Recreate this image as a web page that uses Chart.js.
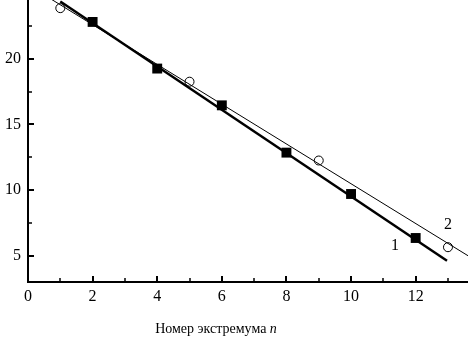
<!DOCTYPE html>
<html>
<head>
<meta charset="utf-8">
<script src="https://cdn.jsdelivr.net/npm/chart.js@4.4.1/dist/chart.umd.min.js"></script>
<style>
  body { margin: 0; background: #fff; }
  #wrap { width: 468px; height: 340px; }
</style>
</head>
<body>
<div id="wrap"><canvas id="extremaChart" width="468" height="340"></canvas></div>
<script>
// measured points
const squareN = [2, 4, 6, 8, 10, 12];
const squareVal = [22.8, 19.25, 16.45, 12.85, 9.7, 6.35];
const circleN = [1, 5, 9, 13];
const circleVal = [23.85, 18.25, 12.25, 5.65];

// fitted lines, end points
const fit1N = [1.0, 12.97];
const fit1Val = [24.35, 4.62];
const fit2N = [0.7, 13.62];
const fit2Val = [24.56, 5.0];

// axes
const xMajor = [0, 2, 4, 6, 8, 10, 12];
const xMinor = [1, 3, 5, 7, 9, 11, 13];
const yMajor = [5, 10, 15, 20];
const yMinor = [7.5, 12.5, 17.5, 22.5];
const xRange = [0, 13.62];
const yRange = [3, 24.47];

const curveLabels = [
    { text: '1', n: 11.36, v: 5.72 },
    { text: '2', n: 13.0, v: 7.35 }
];
const xTitle = 'Номер экстремума ';
const xTitleVar = 'n';

const FONT = "'Liberation Serif', 'Times New Roman', serif";

function toXY(xs, ys) {
    return xs.map((x, i) => ({ x: x, y: ys[i] }));
}

// inner tick marks, curve numbers and axis title
const decorPlugin = {
    id: 'decor',
    afterDraw(chart) {
        const ctx = chart.ctx;
        const xs = chart.scales.x;
        const ys = chart.scales.y;
        const area = chart.chartArea;
        ctx.save();
        ctx.strokeStyle = '#000';
        ctx.lineCap = 'butt';

        function xTick(v, len, w) {
            const px = Math.round(xs.getPixelForValue(v));
            ctx.lineWidth = w;
            ctx.beginPath();
            ctx.moveTo(px, area.bottom);
            ctx.lineTo(px, area.bottom - len);
            ctx.stroke();
        }
        function yTick(v, len, w) {
            const py = Math.round(ys.getPixelForValue(v));
            ctx.lineWidth = w;
            ctx.beginPath();
            ctx.moveTo(area.left, py);
            ctx.lineTo(area.left + len, py);
            ctx.stroke();
        }
        xMajor.forEach(v => xTick(v, 6, 2));
        xMinor.forEach(v => xTick(v, 4, 1.5));
        yMajor.forEach(v => yTick(v, 6, 2));
        yMinor.forEach(v => yTick(v, 4, 1.5));

        ctx.fillStyle = '#000';
        ctx.font = '16px ' + FONT;
        ctx.textAlign = 'center';
        ctx.textBaseline = 'middle';
        curveLabels.forEach(l => {
            ctx.fillText(l.text, xs.getPixelForValue(l.n), ys.getPixelForValue(l.v));
        });

        ctx.textAlign = 'left';
        ctx.textBaseline = 'alphabetic';
        ctx.font = '14px ' + FONT;
        const w1 = ctx.measureText(xTitle).width;
        ctx.font = 'italic 14px ' + FONT;
        const w2 = ctx.measureText(xTitleVar).width;
        const startX = 216 - (w1 + w2) / 2;
        ctx.font = '14px ' + FONT;
        ctx.fillText(xTitle, startX, 333);
        ctx.font = 'italic 14px ' + FONT;
        ctx.fillText(xTitleVar, startX + w1, 333);
        ctx.restore();
    }
};

new Chart('extremaChart', {
    type: 'scatter',
    data: {
        datasets: [{
            label: 'fit 1',
            data: toXY(fit1N, fit1Val),
            showLine: true,
            borderColor: '#000',
            borderWidth: 2.5,
            pointRadius: 0,
            tension: 0
        }, {
            label: 'fit 2',
            data: toXY(fit2N, fit2Val),
            showLine: true,
            borderColor: '#000',
            borderWidth: 1,
            pointRadius: 0,
            tension: 0
        }, {
            label: '1',
            data: toXY(squareN, squareVal),
            pointStyle: 'rect',
            pointRadius: 7,
            backgroundColor: '#000',
            borderColor: '#000',
            borderWidth: 0
        }, {
            label: '2',
            data: toXY(circleN, circleVal),
            pointStyle: 'circle',
            pointRadius: 4.5,
            backgroundColor: 'rgba(0,0,0,0)',
            borderColor: '#000',
            borderWidth: 1
        }]
    },
    options: {
        responsive: false,
        animation: false,
        layout: { padding: 0, autoPadding: false },
        plugins: {
            legend: { display: false },
            tooltip: { enabled: false }
        },
        scales: {
            x: {
                type: 'linear',
                min: xRange[0],
                max: xRange[1],
                afterBuildTicks: (scale) => { scale.ticks = xMajor.map(v => ({ value: v })); },
                afterFit: (scale) => {
                    scale.height = 58;
                    scale.paddingLeft = 0;
                    scale.paddingRight = 0;
                },
                grid: { display: true, drawOnChartArea: false, drawTicks: false },
                border: { display: true, color: '#000', width: 2 },
                ticks: {
                    color: '#000',
                    padding: 5,
                    maxRotation: 0,
                    autoSkip: false,
                    font: { family: FONT, size: 16 }
                }
            },
            y: {
                type: 'linear',
                min: yRange[0],
                max: yRange[1],
                afterBuildTicks: (scale) => { scale.ticks = yMajor.map(v => ({ value: v })); },
                afterFit: (scale) => {
                    scale.width = 28;
                    scale.paddingTop = 0;
                    scale.paddingBottom = 0;
                },
                grid: { display: true, drawOnChartArea: false, drawTicks: false },
                border: { display: true, color: '#000', width: 2 },
                ticks: {
                    color: '#000',
                    padding: 7,
                    autoSkip: false,
                    font: { family: FONT, size: 16 }
                }
            }
        }
    },
    plugins: [decorPlugin]
});
</script>
</body>
</html>
